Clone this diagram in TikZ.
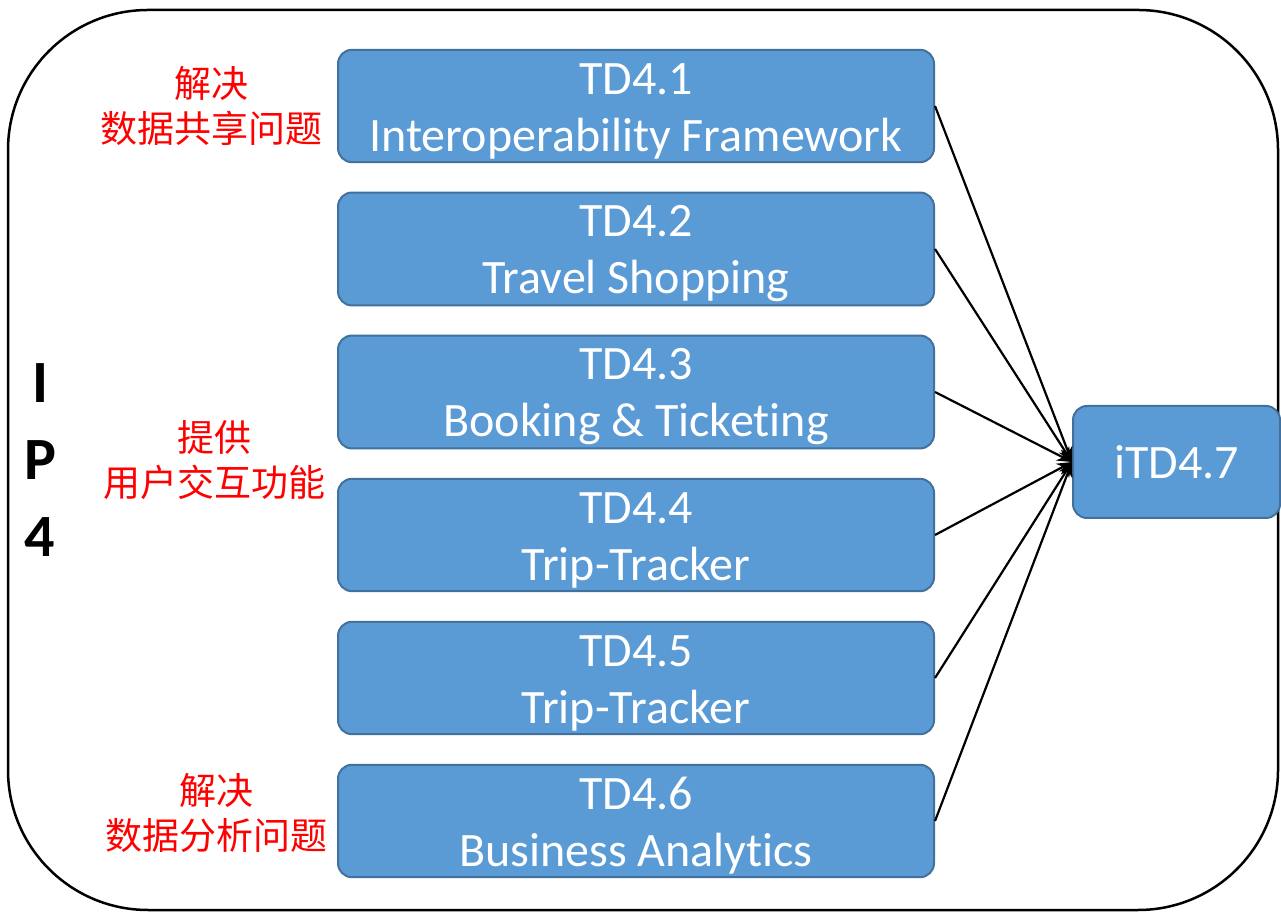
\documentclass[tikz,border=0pt]{standalone}
\usepackage{fontspec}
\setmainfont{Carlito}[Ligatures={NoCommon,NoContextual}]
\newfontfamily\cjk{Noto Sans CJK SC}
\usetikzlibrary{arrows.meta,positioning}
\definecolor{tdblue}{RGB}{91,155,213}
\definecolor{tdedge}{RGB}{65,113,156}
\newcommand{\tdlines}[2]{\rule{0pt}{41pt}#1\\#2}

\begin{document}
\begin{tikzpicture}[x=1pt,y=1pt,->,>={Stealth[length=15pt,width=12pt]},line width=2.2pt,node distance=143pt]
        \tikzstyle{td}=[rectangle,rounded corners=14pt,fill=tdblue,draw=tdedge,line width=2pt,text=white,
                        minimum width=596pt,minimum height=112pt,align=center,font=\fontsize{48}{57}\selectfont]
        \tikzstyle{note}=[text=red,align=center,font=\cjk\fontsize{37}{45}\selectfont]
        \useasboundingbox (0,0) rectangle (1281,912);
        \draw[-,line width=2.5pt,rounded corners=140pt] (8,2) rectangle (1278,902);

        \node[td]                      (TD41)  at (636,806)      {\tdlines{TD4.1}{Interoperability Framework}};
        \node[td]                      (TD42)  [below of=TD41]   {\tdlines{TD4.2}{Travel Shopping}};
        \node[td]                      (TD43)  [below of=TD42]   {\tdlines{TD4.3}{Booking \& Ticketing}};
        \node[td]                      (TD44)  [below of=TD43]   {\tdlines{TD4.4}{Trip-Tracker}};
        \node[td]                      (TD45)  [below of=TD44]   {\tdlines{TD4.5}{Trip-Tracker}};
        \node[td]                      (TD46)  [below of=TD45]   {\tdlines{TD4.6}{Business Analytics}};
        \node[td,minimum width=207pt]  (iTD47) at (1176.5,450)   {iTD4.7};

        \node[note]                    (share) [left=10pt of TD41]          {解决\\数据共享问题};
        \node[note,anchor=east]        (user)  at (330,452)                 {提供\\用户交互功能};
        \node[note,yshift=8pt]         (anal)  [left=5pt of TD46]           {解决\\数据分析问题};
        \node[align=center,font=\bfseries\fontsize{60}{77}\selectfont] (IP4) at (40,452) {I\\P\\4};

        \path (TD41.east) edge (iTD47.west)
              (TD42.east) edge (iTD47.west)
              (TD43.east) edge (iTD47.west)
              (TD44.east) edge (iTD47.west)
              (TD45.east) edge (iTD47.west)
              (TD46.east) edge (iTD47.west);
\end{tikzpicture}
\end{document}
